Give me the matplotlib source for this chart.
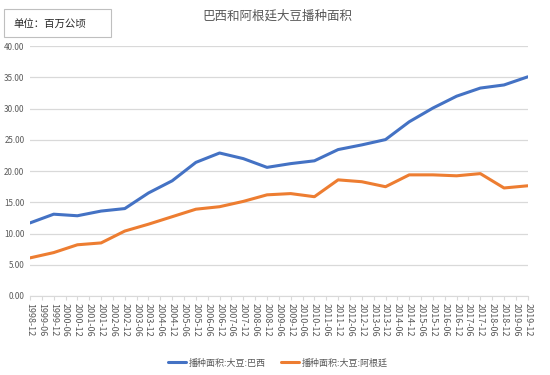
import matplotlib.pyplot as plt
from matplotlib.patches import Rectangle

plt.rcParams['font.family'] = ['Noto Sans CJK SC', 'DejaVu Sans']

# half-year category labels shown on the x axis
tick_labels = []
for y in range(1998, 2020):
    if y > 1998:
        tick_labels.append(f"{y}-06")
    tick_labels.append(f"{y}-12")

# annual values (million hectares), recorded at each December
years = list(range(1998, 2020))
brazil = [11.7, 13.1, 12.85, 13.6, 14.0, 16.5, 18.45, 21.4, 22.9, 22.0, 20.6,
          21.2, 21.65, 23.45, 24.2, 25.05, 27.9, 30.1, 32.0, 33.3, 33.8, 35.1]
argentina = [6.1, 6.95, 8.2, 8.5, 10.4, 11.5, 12.7, 13.9, 14.3, 15.15, 16.2,
             16.4, 15.9, 18.6, 18.3, 17.5, 19.4, 19.4, 19.25, 19.6, 17.3, 17.65]

name_br = "播种面积:大豆:巴西"
name_ar = "播种面积:大豆:阿根廷"

x = [tick_labels.index(f"{y}-12") for y in years]

fig = plt.figure(figsize=(5.5, 3.75), dpi=100)
ax = fig.add_axes([0.0545, 0.2107, 0.905, 0.666])

ax.plot(x, brazil, color='#4472C4', lw=2.2, label=name_br, solid_capstyle='round')
ax.plot(x, argentina, color='#ED7D31', lw=2.2, label=name_ar, solid_capstyle='round')

ax.set_xlim(0, len(tick_labels) - 1)
ax.set_ylim(0, 40)
ax.set_yticks(range(0, 41, 5))
ax.set_yticklabels([f"{v:.2f}" for v in range(0, 41, 5)], fontsize=5.8, color='#595959')
ax.set_xticks(range(len(tick_labels)))
ax.set_xticklabels(tick_labels, rotation=-90, fontsize=6.5, color='#595959',
                   ha='center', va='top')
ax.tick_params(axis='y', length=0, pad=4)
ax.tick_params(axis='x', length=3, color='#D9D9D9', pad=2)

ax.grid(axis='y', color='#D9D9D9', lw=0.9)
ax.set_axisbelow(True)
for s in ['top', 'right', 'left']:
    ax.spines[s].set_visible(False)
ax.spines['bottom'].set_color('#D9D9D9')

fig.text(277 / 550, 1 - 16 / 375, "巴西和阿根廷大豆播种面积", ha='center', va='center',
         fontsize=9, color='#595959')

fig.patches.append(Rectangle((4 / 550, 1 - 37 / 375), 107 / 550, 28 / 375,
                             transform=fig.transFigure, fill=False,
                             edgecolor='#BFBFBF', lw=0.8))
fig.text(13 / 550, 1 - 24 / 375, "单位：百万公顷", ha='left', va='center',
         fontsize=7.5, color='#262626')

fig.legend(loc='center', bbox_to_anchor=(0.505, 1 - 363 / 375), ncol=2, frameon=False,
           fontsize=6.5, handlelength=2.0, handletextpad=0.3, columnspacing=1.7,
           labelcolor='#595959')

fig.savefig('out.png', dpi=100)
